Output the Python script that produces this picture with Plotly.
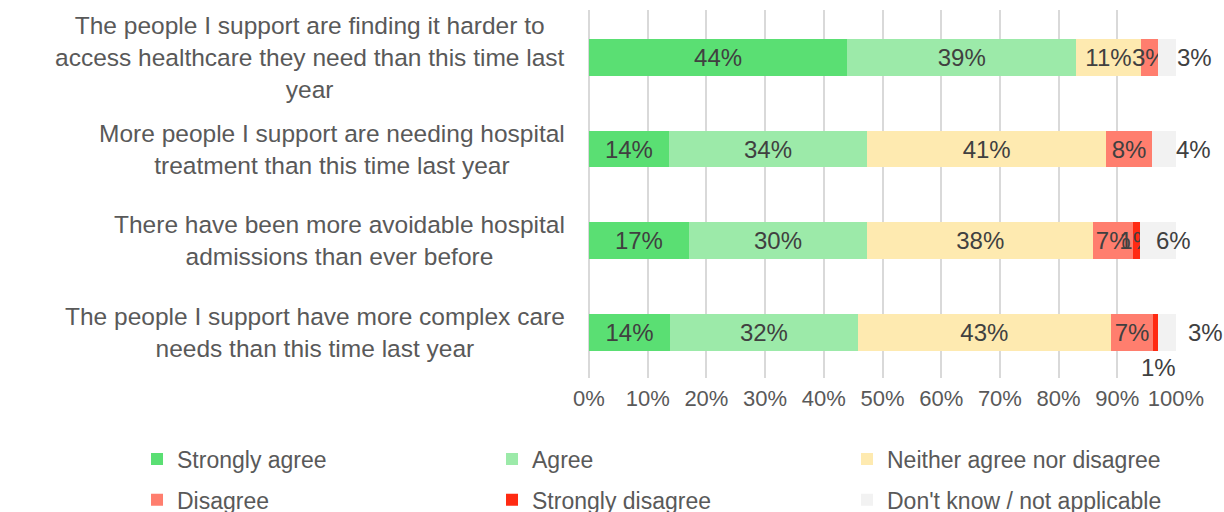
import plotly.graph_objects as go

# Survey statements (top to bottom) and response shares in percent
statements = [
    "The people I support are finding it harder to<br>access healthcare they need than this time last<br>year",
    "More people I support are needing hospital<br>treatment than this time last year",
    "There have been more avoidable hospital<br>admissions than ever before",
    "The people I support have more complex care<br>needs than this time last year",
]
strongly_agree = [44.0, 13.6, 17.0, 13.8]
agree = [39.0, 33.8, 30.4, 32.0]
neither = [11.0, 40.7, 38.5, 43.1]
disagree = [2.9, 7.8, 6.8, 7.2]
strongly_disagree = [0.0, 0.0, 1.2, 0.8]
dont_know = [3.1, 4.1, 6.1, 3.1]

series = [
    ("Strongly agree", strongly_agree, "#5ADF73", "legend"),
    ("Agree", agree, "#9CEAA9", "legend"),
    ("Neither agree nor disagree", neither, "#FEEAB0", "legend"),
    ("Disagree", disagree, "#FF7E6E", "legend2"),
    ("Strongly disagree", strongly_disagree, "#FF2A12", "legend2"),
    ("Don't know / not applicable", dont_know, "#F2F2F2", "legend2"),
]

# Labels placed outside their segments: (series, row) -> (x offset px, y offset px, anchor)
moved_labels = {
    ("Don't know / not applicable", 0): (-1, 0, "left"),
    ("Don't know / not applicable", 1): (-2, 0, "left"),
    ("Don't know / not applicable", 2): (15, 0, "center"),
    ("Don't know / not applicable", 3): (10, 0, "left"),
    ("Strongly disagree", 3): (3, -35, "center"),
}

label_color = "#404040"
text_color = "#595959"
font_family = "Liberation Sans, Arial, sans-serif"
label_size = 24

fig = go.Figure()
annotations = []
cumulative = [0.0] * len(statements)
for name, values, color, legend_id in series:
    texts = []
    for i, v in enumerate(values):
        if v <= 0 or (name, i) in moved_labels:
            texts.append("")
        else:
            texts.append(f"{v:.0f}%")
    fig.add_trace(go.Bar(
        name=name,
        y=statements,
        x=values,
        orientation="h",
        marker=dict(color=color, line=dict(width=0)),
        text=texts,
        textposition="inside",
        insidetextanchor="middle",
        textangle=0,
        textfont=dict(size=label_size, color=label_color, family=font_family),
        width=0.4,
        legend=legend_id,
        hoverinfo="skip",
    ))
    for i, v in enumerate(values):
        if (name, i) in moved_labels:
            dx, dy, anchor = moved_labels[(name, i)]
            if anchor == "left":
                xpos = cumulative[i] + v
            else:
                xpos = cumulative[i] + v / 2
            annotations.append(dict(
                x=xpos, y=statements[i], xref="x", yref="y",
                text=f"{v:.0f}%", showarrow=False,
                xanchor=anchor, yanchor="middle",
                xshift=dx, yshift=dy,
                font=dict(size=label_size, color=label_color, family=font_family),
            ))
        cumulative[i] += v

# Statement texts, each line centred within a right-aligned block
for s in statements:
    annotations.append(dict(
        x=-0.037, y=s, xref="paper", yref="y",
        text=s, showarrow=False, xanchor="right", yanchor="middle",
        align="center",
        font=dict(size=24.5, color=text_color, family=font_family),
    ))

legend_style = dict(
    orientation="h",
    font=dict(size=23, color=text_color, family=font_family),
    entrywidth=310,
    entrywidthmode="pixels",
    traceorder="normal",
    bgcolor="rgba(0,0,0,0)",
    xanchor="left",
    yanchor="middle",
    itemclick=False,
    itemdoubleclick=False,
)

fig.update_layout(
    width=1224,
    height=512,
    margin=dict(l=589, r=48, t=10, b=134, autoexpand=False),
    paper_bgcolor="white",
    plot_bgcolor="white",
    barmode="stack",
    bargap=0.6,
    showlegend=True,
    legend=dict(legend_style, x=-0.77, y=-0.22),
    legend2=dict(legend_style, x=-0.77, y=-0.331),
    uniformtext=dict(minsize=label_size, mode="show"),
    xaxis=dict(
        range=[0, 100],
        dtick=10,
        ticksuffix="%",
        showgrid=True,
        gridcolor="#D9D9D9",
        gridwidth=2,
        zeroline=True,
        zerolinecolor="#D9D9D9",
        zerolinewidth=2,
        showline=False,
        ticklabelstandoff=5,
        tickfont=dict(size=22, color=text_color, family=font_family),
        fixedrange=True,
    ),
    yaxis=dict(
        autorange="reversed",
        showticklabels=False,
        showgrid=False,
        zeroline=False,
        fixedrange=True,
    ),
    annotations=annotations,
)

fig.write_html("out.html")
